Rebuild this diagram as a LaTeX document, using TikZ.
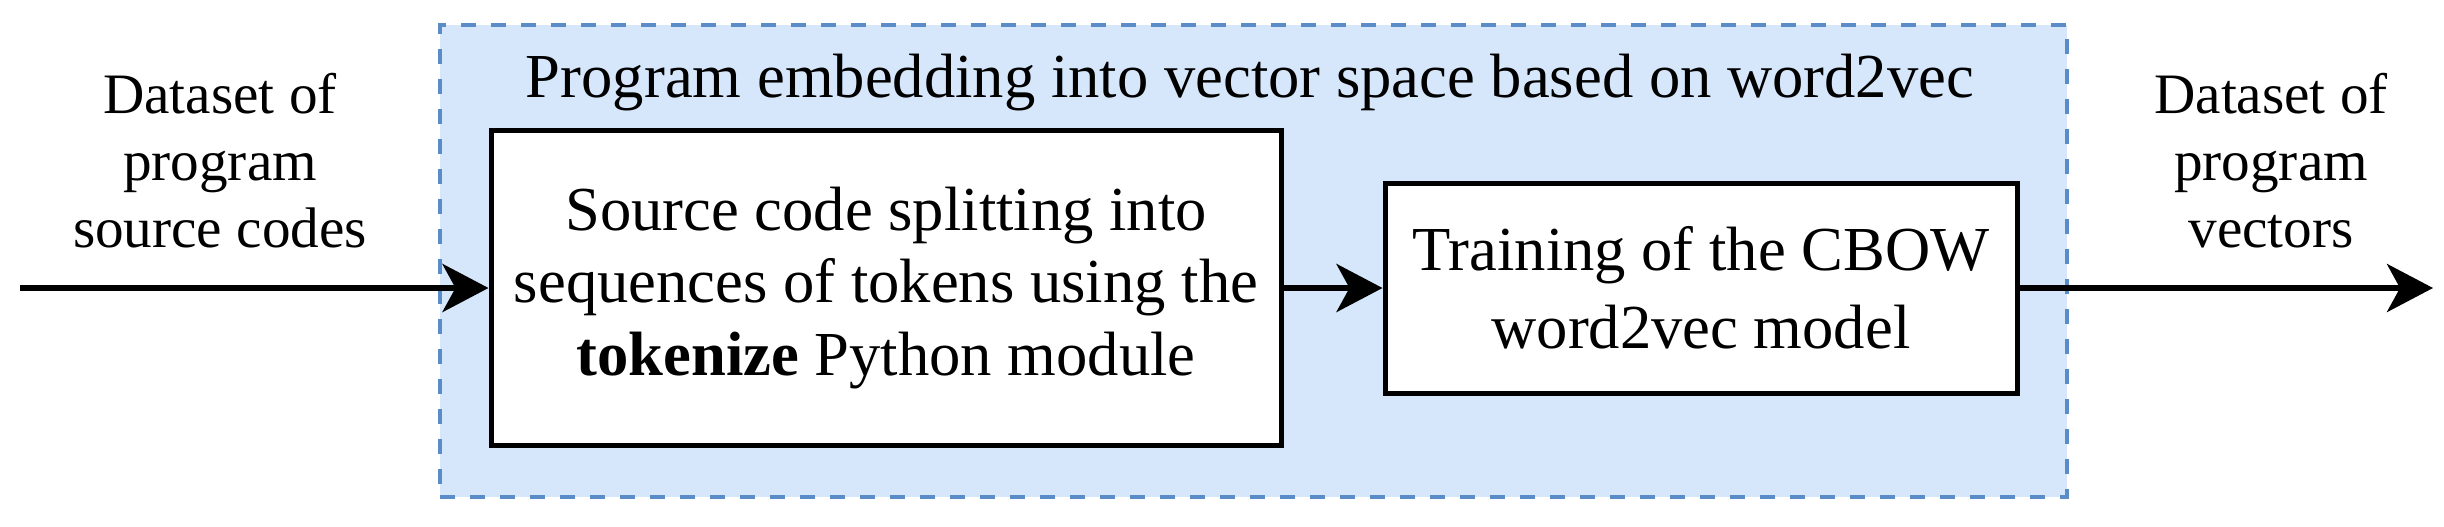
\documentclass[tikz,border=0pt]{standalone}
\usepackage{fontspec}
\setmainfont{Liberation Serif}
\usetikzlibrary{arrows.meta}
\definecolor{groupfill}{HTML}{D6E7FB}
\definecolor{groupline}{HTML}{5A8CC8}
\begin{document}
\begin{tikzpicture}[x=0.5pt,y=-0.5pt,
  group/.style={draw=groupline, fill=groupfill, line width=2pt,
    dash pattern=on 7.5pt off 7.5pt, minimum width=813.5pt,
    minimum height=236pt, inner sep=0pt},
  procbox/.style={draw=black, fill=white, line width=2.5pt, align=center,
    inner sep=0pt, font=\fontsize{31.3}{36.25}\selectfont},
  iolabel/.style={align=center, inner sep=0pt,
    font=\fontsize{28.6}{33.5}\selectfont},
  titletext/.style={anchor=base, inner sep=0pt,
    font=\fontsize{31.3}{36}\selectfont},
  flow/.style={line width=3pt, -{Stealth[length=23pt, width=24pt, inset=6.5pt]}},
]
\useasboundingbox (0,0) rectangle (2444,526);
\node[group] (grp) at (1253.5,261) {};
\node[titletext] (title) at (1250,97) {Program embedding into vector space based on word2vec};
\node[procbox, minimum width=395pt, minimum height=157.5pt] (split) at (886,288)
  {Source code splitting into\\ sequences of tokens using the\\ \textbf{tokenize} Python module};
\node[procbox, minimum width=316pt, minimum height=105pt,
  font=\fontsize{31.3}{39}\selectfont] (train) at (1701,288)
  {Training of the CBOW\\ word2vec model};
\node[iolabel] (inlab) at (220,160.5) {Dataset of\\ program\\ source codes};
\node[iolabel] (outlab) at (2271,160.5) {Dataset of\\ program\\ vectors};
\coordinate (src) at (20,288);
\coordinate (dst) at (2433,288);
\draw[flow] (src) -- (split.west);
\draw[flow] (split.east) -- (train.west);
\draw[flow] (train.east) -- (dst);
\end{tikzpicture}
\end{document}
